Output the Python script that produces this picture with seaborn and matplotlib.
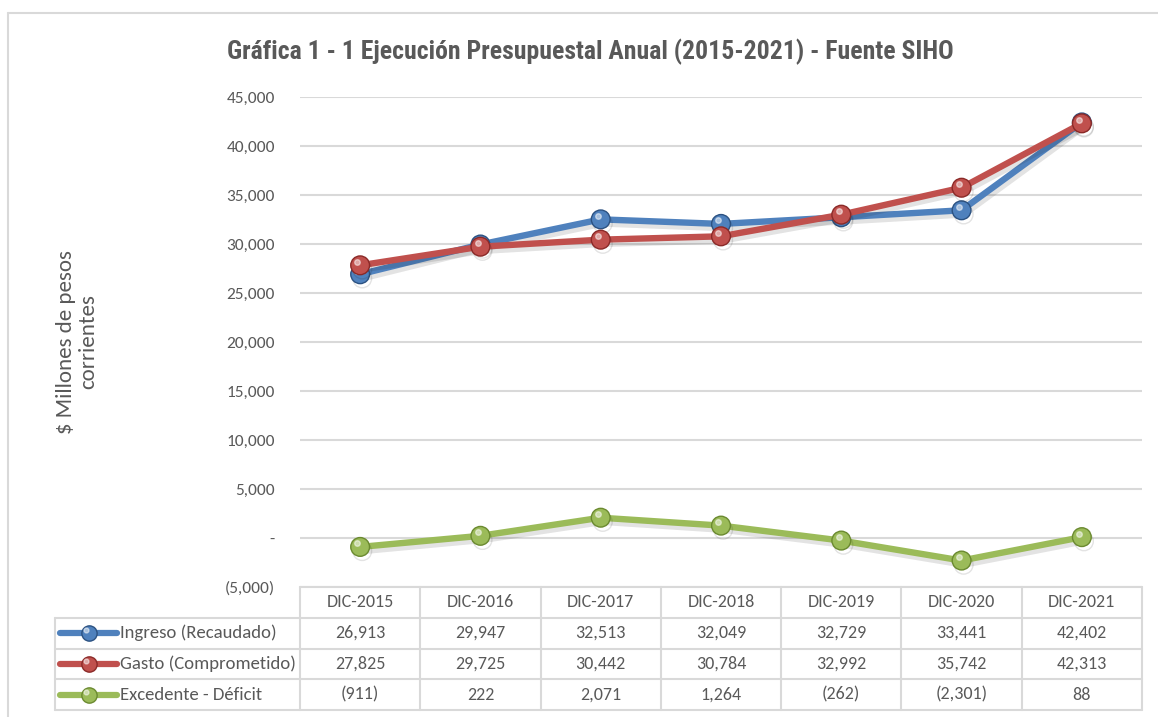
import numpy as np
import pandas as pd
import matplotlib
matplotlib.use("Agg")
import matplotlib.pyplot as plt
import matplotlib.patheffects as pe
from matplotlib.transforms import ScaledTranslation
import seaborn as sns

# Datos
periodos = ['DIC-2015', 'DIC-2016', 'DIC-2017', 'DIC-2018', 'DIC-2019', 'DIC-2020', 'DIC-2021']
series = ['Ingreso (Recaudado)', 'Gasto (Comprometido)', 'Excedente - Déficit']
ingreso = [26913, 29947, 32513, 32049, 32729, 33441, 42402]
gasto = [27825, 29725, 30442, 30784, 32992, 35742, 42313]
excedente = [-911, 222, 2071, 1264, -262, -2301, 88]
y_ticks = [-5000, 0, 5000, 10000, 15000, 20000, 25000, 30000, 35000, 40000, 45000]

colores = ['#4f81bd', '#c0504d', '#9bbb59']
bordes = ['#2c5282', '#8b2a28', '#6b8a30']
gris = '#595959'
linea_gris = '#d9d9d9'

df = pd.DataFrame({'Periodo': periodos * 3,
                   'Serie': np.repeat(series, len(periodos)),
                   'Valor': ingreso + gasto + excedente})


def fmt(v):
    if v == 0:
        return '-'
    if v < 0:
        return f'({-v:,.0f})'
    return f'{v:,.0f}'


sns.set_theme(style="white")
plt.rcParams['font.family'] = ['Carlito', 'Lato', 'DejaVu Sans']
fuente_titulo = ['Liberation Sans Narrow', 'Arial Narrow', 'Roboto Condensed', 'Archivo Narrow', 'DejaVu Sans']

W, H = 1158, 717
fig = plt.figure(figsize=(W / 100, H / 100), dpi=100)

# Marco exterior
fig.add_artist(plt.Line2D([8 / W, 1], [1 - 13 / H, 1 - 13 / H], color=linea_gris, lw=1.5, transform=fig.transFigure))
fig.add_artist(plt.Line2D([8 / W, 8 / W], [0, 1 - 13 / H], color=linea_gris, lw=1.5, transform=fig.transFigure))

# Grafico principal
ax = fig.add_axes([300 / W, 1 - 587 / H, 842 / W, 490 / H])
for i, s in enumerate(series):
    sub = df[df['Serie'] == s]
    sns.lineplot(data=sub, x='Periodo', y='Valor', ax=ax, color=colores[i], linewidth=4.6,
                 marker='o', markersize=13.5, markeredgecolor=bordes[i], markeredgewidth=1,
                 legend=False, sort=False, zorder=3 + i)
    ln = ax.lines[-1]
    ln.set_path_effects([pe.SimpleLineShadow(offset=(1.5, -3), shadow_color='k', alpha=0.12),
                         pe.Normal()])
    # brillo de las esferas
    brillo = ax.transData + ScaledTranslation(-2 / 72, 2.5 / 72, fig.dpi_scale_trans)
    ax.plot(sub['Periodo'], sub['Valor'], 'o', ms=4, color='white', alpha=0.5,
            transform=brillo, zorder=3 + i)

ax.set_xlim(-0.5, len(periodos) - 0.5)
ax.set_ylim(-5000, 45000)
ax.set_yticks(y_ticks)
ax.set_yticklabels([fmt(v) for v in y_ticks])
ax.tick_params(axis='y', length=0, pad=18, labelsize=12.5, labelcolor=gris)
ax.set_xticks([])
ax.set_xlabel('')
ax.set_ylabel('')
ax.grid(axis='y', color=linea_gris, lw=1.5)
ax.set_axisbelow(True)
for sp in ax.spines.values():
    sp.set_visible(False)

fig.text(590 / W, 1 - 52 / H, 'Gráfica 1 - 1 Ejecución Presupuestal Anual (2015-2021) - Fuente SIHO',
         ha='center', va='center', fontsize=18.5, fontweight='bold', color=gris,
         family=fuente_titulo)
fig.text(77 / W, 1 - 342 / H, '$ Millones de pesos\ncorrientes', rotation=90, ha='center',
         va='center', fontsize=16.5, color=gris, multialignment='center', linespacing=1.1)

# Tabla de datos
ta = fig.add_axes([300 / W, 1 - 710 / H, 842 / W, 123 / H])
ta.set_xlim(-0.5, len(periodos) - 0.5)
ta.set_ylim(4, 0)
ta.axis('off')
px = 842 / len(periodos)
x_izq = -0.5 - 245 / px
n = len(periodos)

ta.plot([-0.5, n - 0.5], [0, 0], color=linea_gris, lw=1.5, clip_on=False)
for r in range(1, 5):
    ta.plot([x_izq, n - 0.5], [r, r], color=linea_gris, lw=1.5, clip_on=False)
for k in range(n + 1):
    ta.plot([-0.5 + k, -0.5 + k], [0, 4], color=linea_gris, lw=1.5, clip_on=False)
ta.plot([x_izq, x_izq], [1, 4], color=linea_gris, lw=1.5, clip_on=False)

for i, p in enumerate(periodos):
    ta.text(i, 0.5, p, ha='center', va='center', fontsize=13, color=gris)

valores = [ingreso, gasto, excedente]
for r, (s, vals) in enumerate(zip(series, valores), start=1):
    for i, v in enumerate(vals):
        ta.text(i, r + 0.5, fmt(v), ha='center', va='center', fontsize=13, color=gris)
    x0 = -0.5 - 240 / px
    x1 = -0.5 - 183 / px
    ta.plot([x0, x1], [r + 0.5, r + 0.5], color=colores[r - 1], lw=4.5, clip_on=False,
            solid_capstyle='round')
    ta.plot([(x0 + x1) / 2], [r + 0.5], 'o', ms=11, color=colores[r - 1],
            markeredgecolor=bordes[r - 1], markeredgewidth=1, clip_on=False)
    brillo_t = ta.transData + ScaledTranslation(-1.5 / 72, 2 / 72, fig.dpi_scale_trans)
    ta.plot([(x0 + x1) / 2], [r + 0.5], 'o', ms=3.5, color='white', alpha=0.5,
            transform=brillo_t, clip_on=False)
    ta.text(-0.5 - 180 / px, r + 0.5, s, ha='left', va='center', fontsize=13.5, color=gris)

fig.savefig('out.png', dpi=100, facecolor='white')
